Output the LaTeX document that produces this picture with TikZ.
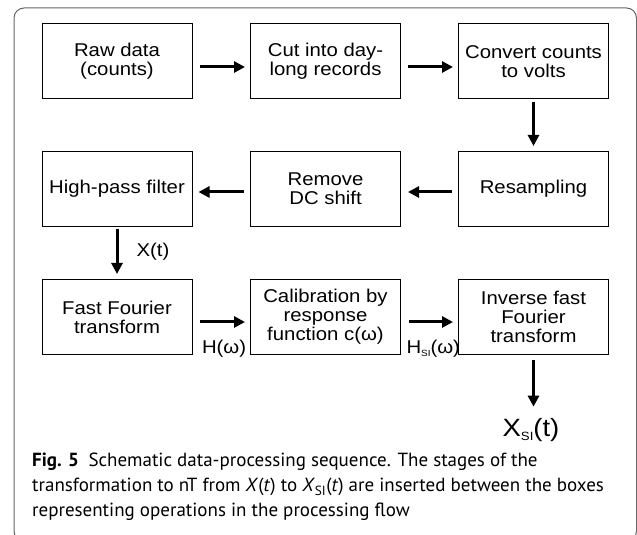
\documentclass[tikz,border=0pt]{standalone}
\usepackage{fontspec}
\usepackage{tikz}
\usetikzlibrary{arrows.meta, positioning}
\newfontfamily\diagfont[FakeStretch=1.1]{Liberation Sans}
\newfontfamily\capfont{PT Sans}
\newcommand\px{11.7}
\newcommand\si[1]{\raisebox{-3pt}{\fontsize{9}{9}\selectfont #1}}

\begin{document}
\begin{tikzpicture}[x=10pt, y=10pt,
    box/.style={rectangle, draw, line width=1pt, minimum width=150pt, minimum height=75pt,
        align=center, inner sep=0pt, font=\diagfont\fontsize{18.5}{19}\selectfont},
    arr/.style={line width=3pt, -{Triangle[length=11pt, width=11pt]}},
    lab/.style={inner sep=0pt, font=\diagfont\fontsize{18.5}{19}\selectfont}]

    \useasboundingbox (0, 0) rectangle (63.7, 53.5);
    \draw[black!60, line width=1pt, rounded corners=10pt] (1.4, 52.7) rectangle (63.65, -0.6);

    % Processing steps
    \node at (\px, 47.35) [box] (raw) {Raw data\\(counts)};
    \node at (\px + 20.85, 47.35) [box] (cut) {Cut into day-\\long records};
    \node at (\px + 41.65, 47.35) [box] (conv) {Convert counts\\to volts};
    \node at (\px + 41.65, 34.6) [box] (resamp) {Resampling};
    \node at (\px + 20.85, 34.6) [box] (dcshift) {Remove\\DC shift};
    \node at (\px, 34.6) [box] (hpf) {High-pass filter};
    \node at (\px, 21.8) [box] (fft) {Fast Fourier\\transform};
    \node at (\px + 20.85, 21.8) [box] (calib) {Calibration by\\response\\function c(ω)};
    \node at (\px + 41.65, 21.8) [box] (ifft) {Inverse fast\\Fourier\\transform};
    \node at (\px + 41.4, 9.8) [lab, anchor=base, font=\diagfont\fontsize{25}{25}\selectfont] (xsi)
        {X{\fontsize{12}{12}\selectfont\raisebox{-4pt}{SI}}(t)};

    \draw[arr] ([xshift=7pt, yshift=-5.5pt]raw.east) -- ([xshift=-5pt, yshift=-5.5pt]cut.west);
    \draw[arr] ([xshift=7pt, yshift=-5.5pt]cut.east) -- ([xshift=-5pt, yshift=-5.5pt]conv.west);
    \draw[arr] ([yshift=-3pt]conv.south) -- ([yshift=5pt]resamp.north);
    \draw[arr] ([xshift=-6pt, yshift=-3pt]resamp.west) -- ([xshift=7pt, yshift=-3pt]dcshift.east);
    \draw[arr] ([xshift=-6pt, yshift=-3pt]dcshift.west) -- ([xshift=6pt, yshift=-3pt]hpf.east);
    \draw[arr] ([yshift=-2pt]hpf.south) -- ([yshift=5pt]fft.north)
        node[lab, midway, right, xshift=18pt] {X(t)};
    \draw[arr] ([xshift=7pt, yshift=-5pt]fft.east) -- ([xshift=-5pt, yshift=-5pt]calib.west)
        node[lab, pos=0, anchor=north west, xshift=1pt, yshift=-17pt] {H(ω)};
    \draw[arr] ([xshift=8pt, yshift=-5pt]calib.east) -- ([xshift=-5pt, yshift=-5pt]ifft.west)
        node[lab, pos=0, anchor=north west, xshift=-4pt, yshift=-17pt] {H\si{SI}(ω)};
    \draw[arr, shorten <=5pt, shorten >=12pt] (ifft.south) -- (ifft.south |- xsi.north);

    % Caption (base anchor sits on the last line)
    \node at (3.2, 1.8) [anchor=base west, align=left, inner sep=0pt,
        font=\capfont\fontsize{19}{25}\selectfont] (caption)
        {\textbf{Fig. 5}\hspace{0.5em}Schematic data-processing sequence. The stages of the\\
        transformation to nT from \textit{X}(\textit{t}) to \textit{X}\textsubscript{SI}(\textit{t}) are inserted between the boxes\\
        representing operations in the processing flow};
\end{tikzpicture}
\end{document}
